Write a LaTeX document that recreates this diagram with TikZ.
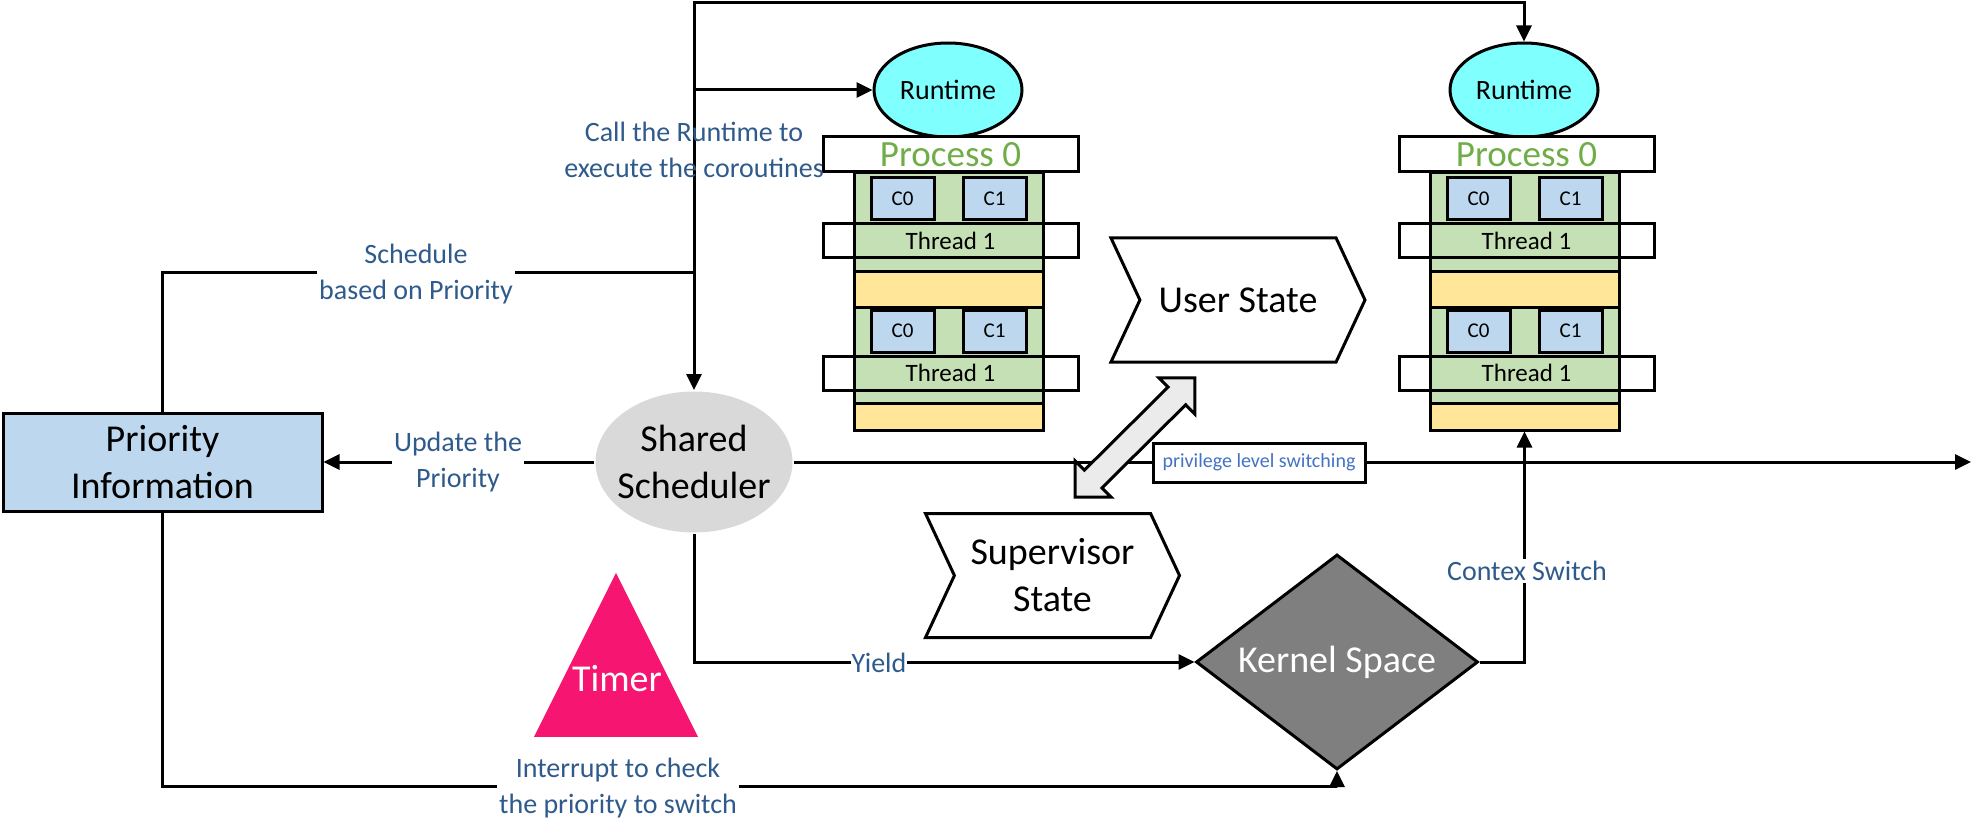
\documentclass[tikz,border=0pt]{standalone}
\usepackage{fontspec}
\setmainfont{Carlito}
\usetikzlibrary{arrows.meta, shapes.geometric, shapes.symbols, shapes.arrows}

\definecolor{prioblue}{RGB}{189,215,238}
\definecolor{rtcyan}{RGB}{128,255,255}
\definecolor{thrgreen}{RGB}{197,224,180}
\definecolor{thryellow}{RGB}{255,230,153}
\definecolor{procgreen}{RGB}{112,173,71}
\definecolor{lblblue}{RGB}{47,90,140}
\definecolor{privblue}{RGB}{68,114,196}
\definecolor{timerpink}{RGB}{246,22,113}
\definecolor{kernelgray}{RGB}{127,127,127}

\begin{document}
\begin{tikzpicture}[x=1pt, y=-1pt, line width=3pt,
      arr/.style={-{Triangle[length=16pt,width=15pt]}},
      arrs/.style={{Triangle[length=16pt,width=15pt]}-{Triangle[length=16pt,width=15pt]}},
      big/.style={font=\fontsize{38}{47}\selectfont, align=center},
      lbl/.style={font=\fontsize{28}{36}\selectfont, text=lblblue, align=center, inner sep=2pt},
      prio/.style={draw, fill=prioblue, minimum width=319pt, minimum height=98pt, inner sep=0pt, big},
      sched/.style={ellipse, fill=black!15, minimum width=197pt, minimum height=141pt, inner xsep=-8pt, inner ysep=-1.5pt, big},
      rt/.style={ellipse, draw, fill=rtcyan, minimum width=148pt, minimum height=94pt, inner sep=0pt, font=\fontsize{28}{34}\selectfont},
      proc/.style={draw, fill=white, minimum width=255pt, minimum height=35pt, inner sep=0pt, text=procgreen, font=\fontsize{37}{40}\selectfont},
      grn/.style={draw, fill=thrgreen, minimum width=189pt, inner sep=0pt},
      ylw/.style={draw, fill=thryellow, minimum width=189pt, inner sep=0pt},
      cor/.style={draw, fill=prioblue, minimum width=63pt, minimum height=42pt, inner sep=0pt, font=\fontsize{21}{24}\selectfont},
      thr/.style={draw, minimum width=255pt, minimum height=34pt, inner sep=0pt, font=\fontsize{25}{28}\selectfont},
      stat/.style={signal, draw, fill=white, signal from=west, signal to=east, signal pointer angle=130, minimum width=254pt, minimum height=124pt, inner sep=0pt, big},
      kern/.style={diamond, draw, fill=kernelgray, aspect=1.31, minimum width=282pt, minimum height=215pt, inner sep=0pt, text=white, big},
      tmr/.style={isosceles triangle, isosceles triangle stretches, shape border rotate=90, fill=timerpink, minimum width=164pt, minimum height=164pt, inner sep=0pt},
      darr/.style={double arrow, draw, fill=black!8, inner xsep=0pt, inner ysep=11pt, double arrow head extend=13pt, minimum height=169pt},
      priv/.style={draw, fill=white, minimum width=212pt, minimum height=39pt, inner sep=0pt, text=privblue, font=\fontsize{20}{24}\selectfont}]
    \useasboundingbox (0,0) rectangle (1974,837);

    \node[prio] (prio) at (162.5,462) {Priority\\Information};
    \node[sched] (shared) at (694,462) {Shared\\Scheduler};

    % two process stacks
    \foreach \ox/\nm in {0/a, 576/b} {
      \begin{scope}[shift={(\ox,0)}]
        \node[rt] (rt\nm) at (948,90) {Runtime};
        \node[grn, minimum height=99pt] (gone\nm) at (948.5,222.5) {};
        \node[ylw, minimum height=35pt] (yone\nm) at (948.5,289.5) {};
        \node[grn, minimum height=96pt] (gtwo\nm) at (948.5,355) {};
        \node[ylw, minimum height=27pt] (ytwo\nm) at (948.5,416.5) {};
        \node[proc] (proc\nm) at (950.5,154.5) {Process 0};
        \foreach \y/\k in {199/one, 331/two} {
          \node[cor] (czero\k\nm) at (902.5,\y) {C0};
          \node[cor] (cone\k\nm) at (994.5,\y) {C1};
          \node[thr] (thr\k\nm) at (950.5,\y+42) {Thread 1};
        }
      \end{scope}
    }

    \node[stat] (user) at (1238,300) {User State};
    \node[stat] (super) at (1052.5,575.5) {Supervisor\\State};
    \node[kern] (kernel) at (1337,662) {Kernel Space};
    \node[tmr, anchor=apex] (timer) at (616,569) {};
    \node[big, text=white] (timertxt) at (617,679) {Timer};

    \coordinate (top) at (694,3);
    \coordinate (join) at (694,273);
    \coordinate (bottomrun) at (700,786);
    \coordinate (far) at (1971,462);

    \draw[arrs] (shared.north) -- (top) -| (rtb.north);
    \draw (prio.north) |- (join);
    \draw[arr] (shared.north |- rta.west) -- (rta.west);
    \draw[arr] (shared.west) -- (prio.east);
    \draw[arr] (shared.east) -- (far);
    \draw[arr] (shared.south) |- (kernel.west);
    \draw[arr] (prio.south) |- (bottomrun) -| (kernel.south);
    \draw[arr] (kernel.east) -| (ytwob.south);

    \node[darr, rotate=44.8] (swap) at (1135,437.5) {};
    \node[priv] (privlbl) at (1259,462.5) {privilege level switching};

    \node[lbl] (calllbl) at (694,150) {Call the Runtime to\\execute the coroutines};
    \node[lbl, fill=white] (schedlbl) at (416,274) {Schedule\\based on Priority};
    \node[lbl, fill=white] (updlbl) at (458,462) {Update the\\Priority};
    \node[lbl, fill=white, inner sep=1pt] (yieldlbl) at (879,663) {Yield};
    \node[lbl, fill=white] (intlbl) at (618,788) {Interrupt to check\\the priority to switch};
    \node[lbl, fill=white] (ctxlbl) at (1527,571) {Contex Switch};
\end{tikzpicture}
\end{document}
